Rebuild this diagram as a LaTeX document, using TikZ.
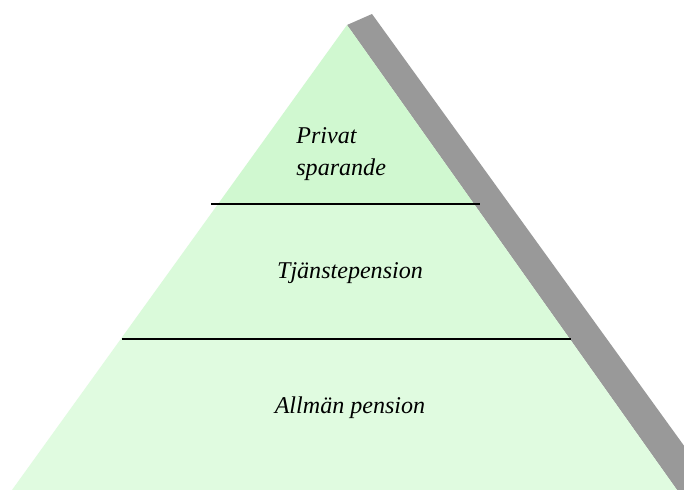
\documentclass[tikz,border=0pt]{standalone}
\usepackage{fontspec}
\setmainfont{Liberation Serif}
\usetikzlibrary{positioning,calc}

\definecolor{topgreen}{RGB}{208,248,208}
\definecolor{midgreen}{RGB}{218,250,218}
\definecolor{lowgreen}{RGB}{224,251,224}
\definecolor{shadowgray}{RGB}{153,153,153}

\begin{document}
\begin{tikzpicture}[x=0.02cm, y=-0.02cm,
  tierlabel/.style={font=\itshape\fontsize{13.7}{18}\selectfont, inner sep=0pt},
  divider/.style={black, line width=1.1pt}]
\useasboundingbox (0,0) rectangle (684,490);
\fill[white] (0,0) rectangle (684,490);

% hörn
\coordinate (apex) at (347,25);
\coordinate (bl) at (12,490);
\coordinate (br) at (677,490);
\coordinate (sapex) at (372,14);
\coordinate (sbase) at (716,490);

% skugga
\begin{scope}
\clip (0,0) rectangle (684,490);
\fill[shadowgray] (apex) -- (sapex) -- (sbase) -- (br) -- cycle;
\end{scope}

% nivåer
\coordinate (l1) at ($(apex)!0.385!(bl)$);
\coordinate (r1) at ($(apex)!0.385!(br)$);
\coordinate (l2) at ($(apex)!0.675!(bl)$);
\coordinate (r2) at ($(apex)!0.675!(br)$);
\fill[topgreen] (apex) -- (r1) -- (l1) -- cycle;
\fill[midgreen] (l1) -- (r1) -- (r2) -- (l2) -- cycle;
\fill[lowgreen] (l2) -- (r2) -- (br) -- (bl) -- cycle;

% skiljelinjer
\coordinate (d1a) at (211,204);
\coordinate (d1b) at (480,204);
\coordinate (d2a) at (122,339);
\coordinate (d2b) at (571,339);
\draw[divider] (d1a) -- (d1b);
\draw[divider] (d2a) -- (d2b);

% texter
\node[tierlabel, anchor=base west] (privat) at (296,143) {Privat};
\node[tierlabel, anchor=base west] (sparande) at (296,175) {sparande};
\node[tierlabel, anchor=base] (tjanste) at (350,278) {Tjänstepension};
\node[tierlabel, anchor=base] (allman) at (350,413) {Allmän pension};
\end{tikzpicture}
\end{document}
